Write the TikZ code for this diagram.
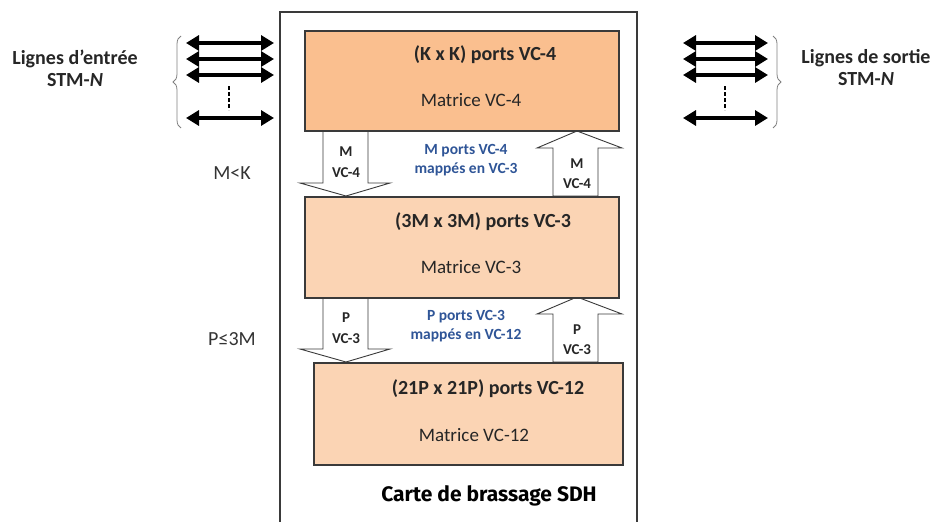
\documentclass[tikz,border=0pt]{standalone}
\usepackage{fontspec}
\setmainfont{Carlito}
\newfontfamily\comicfont{Fira Sans}
\usetikzlibrary{arrows.meta,decorations.pathreplacing}
\definecolor{orangeA}{HTML}{FABF8F}
\definecolor{orangeB}{HTML}{FBD4B4}
\definecolor{bluetxt}{HTML}{2F5597}
\definecolor{edgecol}{HTML}{3A3A3A}
\tikzset{
  mbox/.style={draw=edgecol, line width=1.6pt, anchor=north west, inner sep=0pt},
  barrow/.style={draw=edgecol, fill=white, line width=0.9pt, line join=miter},
  dbl/.style={line width=3.4pt, {Triangle[length=13pt,width=15pt]}-{Triangle[length=13pt,width=15pt]}},
  dotv/.style={line width=2.4pt, dash pattern=on 3.5pt off 2.5pt},
  brc/.style={draw=gray, line width=0.8pt, decorate, decoration={brace, amplitude=8pt}},
  ttl/.style={font=\fontsize{20}{22}\selectfont\bfseries, text=black!85},
  sub/.style={font=\fontsize{19}{22}\selectfont, text=black!85},
  alab/.style={font=\fontsize{15}{16}\selectfont\bfseries, text=black!85},
  blab/.style={font=\fontsize{15.5}{19.5}\selectfont\bfseries, text=bluetxt, align=center},
  side/.style={font=\fontsize{20}{22}\selectfont\bfseries, text=black!85, align=center},
  cond/.style={font=\fontsize{20}{22}\selectfont, text=black!80}
}
\begin{document}
\begin{tikzpicture}[x=1pt,y=-1pt]
\useasboundingbox (0,0) rectangle (940,522);
\clip (0,0) rectangle (940,522);
% outer card
\draw[edgecol, line width=1.2pt] (280,530) -- (280,12) -- (637,12) -- (637,530);
% block arrows
\draw[barrow] (323,131) -- (368,131) -- (368,183) -- (390,183) -- (346,196) -- (300,183) -- (323,183) -- cycle;
\draw[barrow] (553,196) -- (553,148) -- (537,148) -- (577,131) -- (622,148) -- (598,148) -- (598,196) -- cycle;
\draw[barrow] (323,297) -- (368,297) -- (368,349) -- (390,349) -- (346,362) -- (300,349) -- (323,349) -- cycle;
\draw[barrow] (553,362) -- (553,314) -- (537,314) -- (577,297) -- (622,314) -- (598,314) -- (598,362) -- cycle;
% matrices
\node[mbox, fill=orangeA, minimum width=314pt, minimum height=100pt] (m4) at (304,30) {};
\node[mbox, fill=orangeB, minimum width=314pt, minimum height=101pt] (m3) at (304,196) {};
\node[mbox, fill=orangeB, minimum width=309pt, minimum height=102pt] (m12) at (313,362) {};
\node[ttl] (t4) at (485,55) {(K x K) ports VC-4};
\node[sub] (s4) at (471,100) {Matrice VC-4};
\node[ttl] (t3) at (483,222) {(3M x 3M) ports VC-3};
\node[sub] (s3) at (471,267) {Matrice VC-3};
\node[ttl] (t12) at (488,389) {(21P x 21P) ports VC-12};
\node[sub] (s12) at (474,435) {Matrice VC-12};
% arrow labels
\node[alab] (a1) at (346,152) {M};
\node[alab] (a2) at (346,173) {VC-4};
\node[alab] (a3) at (577,164) {M};
\node[alab] (a4) at (577,184) {VC-4};
\node[alab] (a5) at (346,318) {P};
\node[alab] (a6) at (346,339) {VC-3};
\node[alab] (a7) at (577,330) {P};
\node[alab] (a8) at (577,350) {VC-3};
\node[blab] (b1) at (466,160) {M ports VC-4\\mappés en VC-3};
\node[blab] (b2) at (466,326) {P ports VC-3\\mappés en VC-12};
\node[cond] (c1) at (232,173) {M<K};
\node[cond] (c2) at (232,339) {P≤3M};
% card label
\node[font=\comicfont\fontsize{21}{24}\selectfont\bfseries] (card) at (489,496) {Carte de brassage SDH};
% input and output lines
\foreach \i/\y in {1/43,2/59,3/75,4/118}{
  \coordinate (li\i) at (186,\y); \coordinate (ri\i) at (274,\y);
  \draw[dbl] (li\i) -- (ri\i);
  \coordinate (lo\i) at (683,\y); \coordinate (ro\i) at (768,\y);
  \draw[dbl] (lo\i) -- (ro\i);
}
\coordinate (dia) at (229,86); \coordinate (dib) at (229,110);
\draw[dotv] (dia) -- (dib);
\coordinate (doa) at (725,86); \coordinate (dob) at (725,110);
\draw[dotv] (doa) -- (dob);
\coordinate (bia) at (181,128); \coordinate (bib) at (181,36);
\draw[brc] (bia) -- (bib);
\coordinate (boa) at (773,36); \coordinate (bob) at (773,128);
\draw[brc] (boa) -- (bob);
\node[side] (lin) at (75,68) {Lignes d'entrée\\STM-\textit{N}};
\node[side] (lout) at (866,68) {Lignes de sortie\\STM-\textit{N}};
\end{tikzpicture}
\end{document}
